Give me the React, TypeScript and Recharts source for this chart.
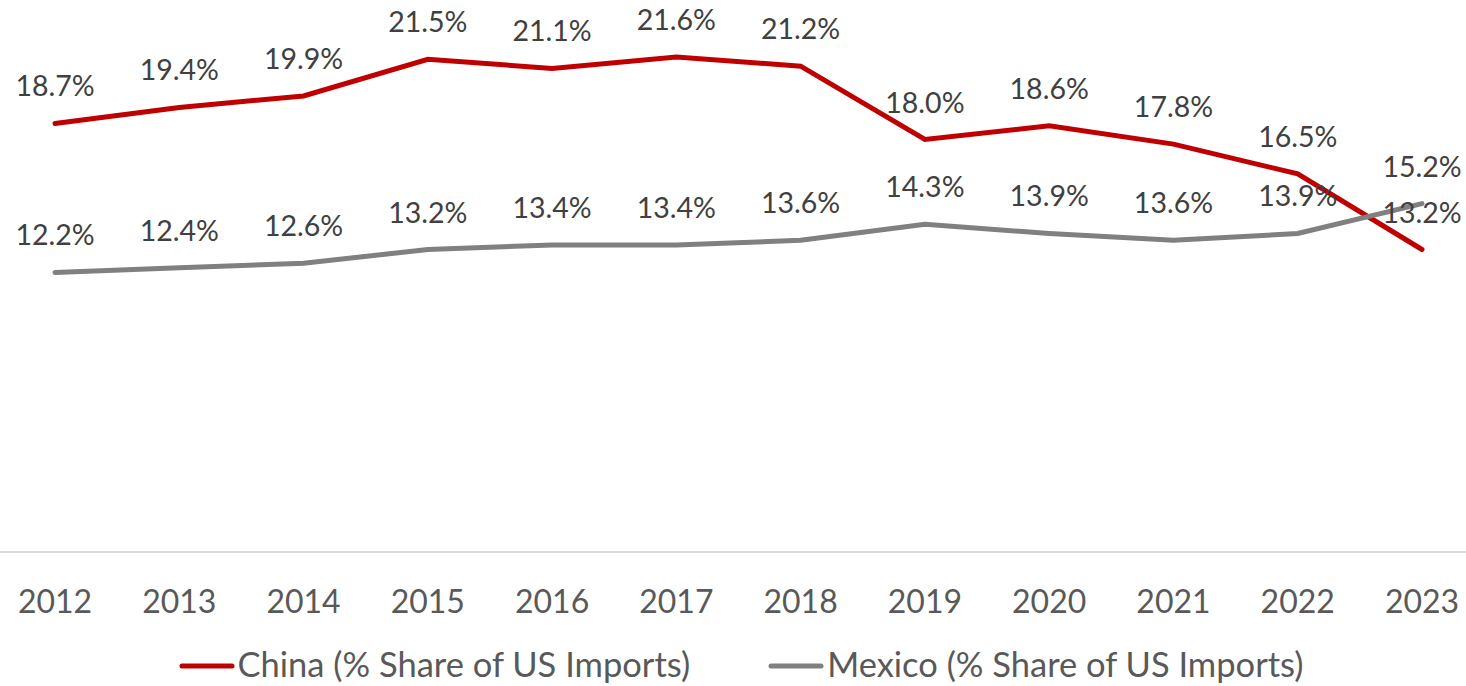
import React from 'react';
import { LineChart, Line, XAxis, YAxis, Legend, LabelList } from 'recharts';

const years = ['2012', '2013', '2014', '2015', '2016', '2017', '2018', '2019', '2020', '2021', '2022', '2023'];
const china = [18.7, 19.4, 19.9, 21.5, 21.1, 21.6, 21.2, 18.0, 18.6, 17.8, 16.5, 13.2];
const mexico = [12.2, 12.4, 12.6, 13.2, 13.4, 13.4, 13.6, 14.3, 13.9, 13.6, 13.9, 15.2];

const chinaName = 'China (% Share of US Imports)';
const mexicoName = 'Mexico (% Share of US Imports)';

const data = years.map((year, i) => ({ year, china: china[i], mexico: mexico[i] }));

const FONT = 'Lato, "Open Sans", sans-serif';

// legend: short thick line then the label, items spaced apart
const LegendContent = ({ payload }: any) => (
  <div style={{ display: 'flex', justifyContent: 'center', alignItems: 'center', gap: 78, fontFamily: FONT, marginTop: 2, paddingLeft: 16 }}>
    {(payload || []).map((p: any) => (
      <div key={p.value} style={{ display: 'flex', alignItems: 'center' }}>
        <svg width={56} height={8} style={{ marginRight: 3, marginTop: 3 }}>
          <line x1={3} y1={4} x2={53} y2={4} stroke={p.color} strokeWidth={5} strokeLinecap="round" />
        </svg>
        <span style={{ fontSize: 34.5, color: '#595959', lineHeight: '40px' }}>{p.value}</span>
      </div>
    ))}
  </div>
);

export default function App() {
  return (
    <div style={{ position: 'absolute', left: 0, top: 0, background: '#fff' }}>
      <LineChart width={1466} height={686} data={data} margin={{ top: 2, right: 0, bottom: 0, left: 0 }}>
        <XAxis
          dataKey="year"
          padding={{ left: 55, right: 44 }}
          axisLine={{ stroke: '#d9d9d9', strokeWidth: 2 }}
          tickLine={false}
          tickSize={0}
          tickMargin={38}
          height={90}
          interval={0}
          tick={{ fill: '#595959', fontSize: 32, fontFamily: FONT }}
        />
        <YAxis hide domain={[0, 24]} />
        <Legend verticalAlign="bottom" height={44} content={<LegendContent />} />
        <Line
          type="linear"
          dataKey="china"
          name={chinaName}
          stroke="#c00000"
          strokeWidth={5}
          strokeLinecap="round"
          dot={false}
          isAnimationActive={false}
        >
          <LabelList
            dataKey="china"
            position="top"
            offset={27}
            formatter={(v: any) => `${Number(v).toFixed(1)}%`}
            style={{ fill: '#404040', fontSize: 28.5, fontFamily: FONT }}
          />
        </Line>
        <Line
          type="linear"
          dataKey="mexico"
          name={mexicoName}
          stroke="#808080"
          strokeWidth={5}
          strokeLinecap="round"
          dot={false}
          isAnimationActive={false}
        >
          <LabelList
            dataKey="mexico"
            position="top"
            offset={27}
            formatter={(v: any) => `${Number(v).toFixed(1)}%`}
            style={{ fill: '#404040', fontSize: 28.5, fontFamily: FONT }}
          />
        </Line>
      </LineChart>
    </div>
  );
}
